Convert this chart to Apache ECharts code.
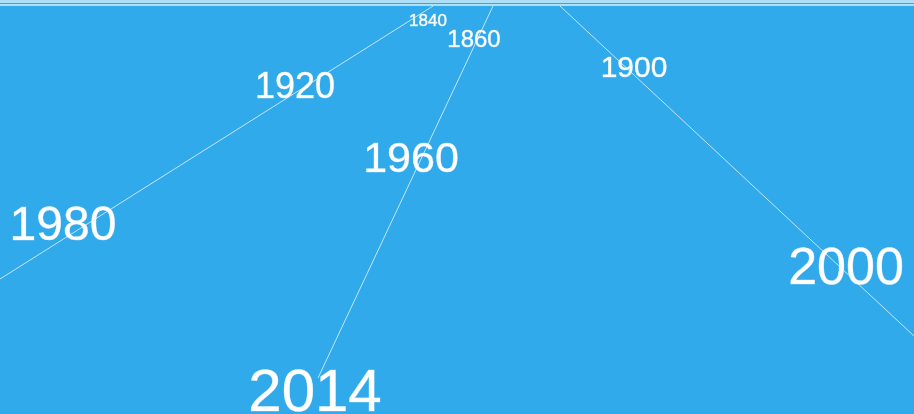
<!DOCTYPE html>
<html>
<head>
<meta charset="utf-8">
<script src="https://cdn.jsdelivr.net/npm/echarts@6/dist/echarts.min.js"></script>
<style>
  html, body { margin: 0; padding: 0; background: #30aaeb; }
  #chart { width: 914px; height: 414px; }
</style>
</head>
<body>
<div id="chart"></div>
<script>
// years and where each one sits on the timeline (chart units)
const years = ['1840', '1860', '1900', '1920', '1960', '1980', '2000', '2014']
const yearX = [428, 474, 634, 295, 411, 63, 846, 315]
const yearY = [21, 40, 69, 88, 160, 227, 270, 394]

// three rays fanning out from the top edge
const rayAX = [433, 0]
const rayAY = [6, 279]
const rayBX = [493, 318]
const rayBY = [6, 378]
const rayCX = [560, 914]
const rayCY = [6, 336]

const labelSize = [17, 24, 30, 36, 43, 48, 52, 60]

const chart = echarts.init(document.getElementById('chart'))

function ray(xs, ys) {
  return {
    type: 'line',
    data: xs.map((x, i) => [x, ys[i]]),
    showSymbol: false,
    silent: true,
    lineStyle: { color: 'rgba(255, 255, 255, 0.7)', width: 1 }
  }
}

chart.setOption({
  backgroundColor: '#30aaeb',
  animation: false,
  grid: { left: 0, right: 0, top: 0, bottom: 0 },
  xAxis: { type: 'value', min: 0, max: 914, show: false },
  yAxis: { type: 'value', min: 0, max: 414, inverse: true, show: false },
  series: [
    {
      type: 'line',
      data: [[0, 5], [914, 5]],
      showSymbol: false,
      silent: true,
      lineStyle: { color: 'rgba(235, 250, 255, 0.9)', width: 1.5 },
      markArea: {
        silent: true,
        itemStyle: { color: 'rgba(215, 240, 250, 0.75)' },
        data: [[{ coord: [0, 0] }, { coord: [914, 3] }]]
      }
    },
    ray(rayAX, rayAY),
    ray(rayBX, rayBY),
    ray(rayCX, rayCY),
    {
      type: 'scatter',
      symbolSize: 0,
      silent: true,
      itemStyle: { opacity: 1 },
      data: years.map((y, i) => ({
        value: [yearX[i], yearY[i]],
        label: {
          show: true,
          position: 'inside',
          formatter: y,
          color: '#ffffff',
          opacity: 1,
          fontFamily: 'Liberation Sans',
          fontSize: labelSize[i],
          textBorderColor: 'rgba(255, 255, 255, 0.6)',
          textBorderWidth: 0.6
        }
      }))
    }
  ]
})
</script>
</body>
</html>
